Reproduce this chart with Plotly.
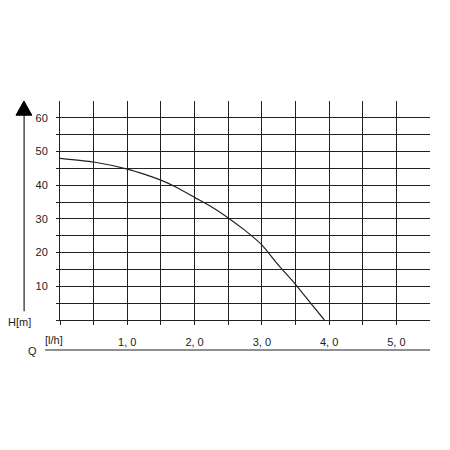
import plotly.graph_objects as go

# pump curve
flow_q = [0.0, 0.5, 1.0, 1.25, 1.5, 1.75, 2.0, 2.25, 2.5, 2.75, 3.0, 3.25, 3.5, 3.75, 3.93]
head_h = [48.0, 46.9, 44.8, 43.3, 41.5, 39.2, 36.4, 33.6, 30.3, 26.6, 22.3, 16.2, 10.6, 4.4, 0.0]

x_ticks = [0.0, 0.5, 1.0, 1.5, 2.0, 2.5, 3.0, 3.5, 4.0, 4.5, 5.0]
x_labels = ["", "", "1, 0", "", "2, 0", "", "3, 0", "", "4, 0", "", "5, 0"]
y_ticks = [0, 5, 10, 15, 20, 25, 30, 35, 40, 45, 50, 55, 60]
y_labels = ["", "", "10", "", "20", "", "30", "", "40", "", "50", "", "60"]

ink = "#222222"
font = dict(family="Liberation Sans Narrow, Liberation Sans, sans-serif", size=11, color=ink)

fig = go.Figure()
fig.add_trace(go.Scatter(x=flow_q, y=head_h, mode="lines",
                         line=dict(color=ink, width=1.2, shape="spline", smoothing=0.6),
                         hoverinfo="skip"))

# page body has an 8px margin, so the figure sits 8px right/down
fig.update_layout(
    width=450, height=450,
    margin=dict(l=52, r=28, t=93, b=138),
    paper_bgcolor="white", plot_bgcolor="white",
    showlegend=False, font=font,
)
fig.update_xaxes(range=[0, 5.5], tickmode="array", tickvals=x_ticks, ticktext=x_labels,
                 showgrid=True, gridcolor=ink, gridwidth=1, zeroline=False,
                 showline=True, linecolor=ink, linewidth=1,
                 ticks="outside", ticklen=4, tickcolor=ink, ticklabelstandoff=8)
fig.update_yaxes(range=[0, 65], tickmode="array", tickvals=y_ticks, ticktext=y_labels,
                 showgrid=True, gridcolor=ink, gridwidth=1, zeroline=False,
                 showline=True, linecolor=ink, linewidth=1,
                 ticks="outside", ticklen=3, tickcolor=ink, ticklabelstandoff=6)

# H axis arrow
fig.add_shape(type="line", xref="paper", yref="paper", x0=-0.097, x1=-0.097, y0=0.04, y1=0.95,
              line=dict(color=ink, width=1.2))
fig.add_shape(type="path", xref="paper", yref="paper",
              path="M -0.119 0.935 L -0.076 0.935 L -0.0975 1.0 Z",
              fillcolor="black", line=dict(color="black", width=1))
# Q baseline
fig.add_shape(type="line", xref="paper", yref="paper", x0=-0.04, x1=1.0, y0=-0.137, y1=-0.137,
              line=dict(color=ink, width=1.2))

fig.add_annotation(text="H[m]", xref="paper", yref="paper", x=-0.073, y=-0.008,
                   xanchor="right", yanchor="middle", showarrow=False, font=font)
fig.add_annotation(text="[l/h]", xref="paper", yref="paper", x=-0.045, y=-0.09,
                   xanchor="left", yanchor="middle", showarrow=False, font=font)
fig.add_annotation(text="Q", xref="paper", yref="paper", x=-0.073, y=-0.142,
                   xanchor="center", yanchor="middle", showarrow=False, font=font)

fig.write_html("out.html")
